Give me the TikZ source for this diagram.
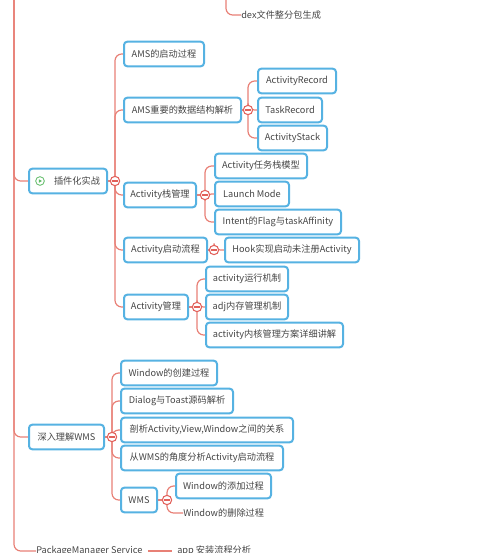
\documentclass[tikz,border=0pt]{standalone}
\usepackage{fontspec}
\setmainfont{Noto Sans CJK SC}
\definecolor{link}{RGB}{232,128,118}
\definecolor{boxblue}{RGB}{86,178,226}
\definecolor{foldred}{RGB}{226,96,90}
\definecolor{txt}{RGB}{70,70,70}
\definecolor{playgreen}{RGB}{92,186,100}
\pgfdeclarelayer{bg}
\pgfsetlayers{bg,main}
\begin{document}
\begin{tikzpicture}[x=0.75pt,y=-0.75pt,
  every node/.style={font=\fontsize{6.9}{8}\selectfont, text=txt},
  box/.style={draw=boxblue, line width=1.5pt, fill=white, rounded corners=2.5pt,
    minimum height=18.5pt, minimum width=#1*0.75pt, inner xsep=0pt, anchor=west},
  leaf/.style={anchor=west, inner xsep=0pt},
  conn/.style={draw=link, line width=0.9pt, rounded corners=5pt},
  fold/.style={circle, draw=foldred, fill=white, line width=0.8pt, minimum size=7pt,
    inner sep=0pt, path picture={\draw[foldred, line width=0.8pt]
      ([xshift=-2pt]path picture bounding box.center) -- ([xshift=2pt]path picture bounding box.center);}},
  playicon/.style={circle, draw=playgreen, fill=white, line width=0.6pt, minimum size=6.5pt,
    inner sep=0pt, path picture={\fill[playgreen]
      ([xshift=-0.8pt,yshift=1.3pt]path picture bounding box.center) --
      ([xshift=1.4pt]path picture bounding box.center) --
      ([xshift=-0.8pt,yshift=-1.3pt]path picture bounding box.center) -- cycle;}}
]
\useasboundingbox (0,0) rectangle (498,553);
\clip (0,0) rectangle (498,553);

% trunk anchors
\coordinate (trunktop) at (14,-5);
\coordinate (dextop) at (226,-5);

% top leaf
\node[leaf] (dex) at (241,15) {dex文件整分包生成};

% plugin branch
\node[box=78] (plugin) at (28,181) {\hspace{13.5pt}插件化实战};
\node[playicon] (play) at (40,181) {};
\node[fold] (cplug) at (115,181) {};

\node[box=80] (ams1) at (123,54) {AMS的启动过程};
\node[box=117] (ams2) at (123,110) {AMS重要的数据结构解析};
\node[fold] (cams) at (248,110) {};
\node[box=78] (arec) at (257,81) {ActivityRecord};
\node[box=64] (trec) at (257,110) {TaskRecord};
\node[box=69] (astk) at (257,138) {ActivityStack};

\node[box=72] (stk) at (123,195) {Activity栈管理};
\node[fold] (cstk) at (205,195) {};
\node[box=92] (tmod) at (214,166) {Activity任务栈模型};
\node[box=74] (lmode) at (214,194) {Launch Mode};
\node[box=126] (flag) at (214,222) {Intent的Flag与taskAffinity};

\node[box=83] (start) at (123,250) {Activity启动流程};
\node[fold] (cstart) at (214,250) {};
\node[box=134] (hook) at (224,250) {Hook实现启动未注册Activity};

\node[box=64] (mgr) at (123,307) {Activity管理};
\node[fold] (cmgr) at (197,307) {};
\node[box=82] (run) at (205,279) {activity运行机制};
\node[box=82] (adj) at (205,307) {adj内存管理机制};
\node[box=137] (kern) at (205,335) {activity内核管理方案详细讲解};

% WMS branch
\node[box=75] (wmsroot) at (28,437) {深入理解WMS};
\node[fold] (cwmsroot) at (112,437) {};
\node[box=96] (wcreate) at (120,373) {Window的创建过程};
\node[box=112] (dialog) at (120,401) {Dialog与Toast源码解析};
\node[box=172] (rel) at (120,430) {剖析Activity,View,Window之间的关系};
\node[box=162] (wstart) at (120,458) {从WMS的角度分析Activity启动流程};
\node[box=36] (wms) at (120,500) {WMS};
\node[fold] (cwms) at (167,500) {};
\node[box=95] (wadd) at (175,486) {Window的添加过程};
\node[leaf] (wdel) at (183,513) {Window的删除过程};

% bottom branch
\node[leaf] (pms) at (36,551) {PackageManager Service};
\node[leaf] (apk) at (177,551) {app 安装流程分析};

\begin{pgfonlayer}{bg}
  \draw[conn] (trunktop) |- (plugin.west);
  \draw[conn] (trunktop) |- (wmsroot.west);
  \draw[conn] (trunktop) |- (pms.west);
  \draw[conn] (dextop) |- (dex.west);

  \draw[conn] (plugin.east) -- (cplug);
  \foreach \c in {ams1,ams2,stk,start,mgr}
    \draw[conn] (cplug.center) |- (\c.west);
  \draw[conn] (ams2.east) -- (cams);
  \foreach \c in {arec,trec,astk}
    \draw[conn] (cams.center) |- (\c.west);
  \draw[conn] (stk.east) -- (cstk);
  \foreach \c in {tmod,lmode,flag}
    \draw[conn] (cstk.center) |- (\c.west);
  \draw[conn] (start.east) -- (cstart);
  \draw[conn] (cstart.center) |- (hook.west);
  \draw[conn] (mgr.east) -- (cmgr);
  \foreach \c in {run,adj,kern}
    \draw[conn] (cmgr.center) |- (\c.west);

  \draw[conn] (wmsroot.east) -- (cwmsroot);
  \foreach \c in {wcreate,dialog,rel,wstart,wms}
    \draw[conn] (cwmsroot.center) |- (\c.west);
  \draw[conn] (wms.east) -- (cwms);
  \foreach \c in {wadd,wdel}
    \draw[conn] (cwms.center) |- (\c.west);

  \draw[conn, line width=1.4pt] ([xshift=4pt]pms.east) -- ([xshift=-4pt]apk.west);
\end{pgfonlayer}
\end{tikzpicture}
\end{document}
